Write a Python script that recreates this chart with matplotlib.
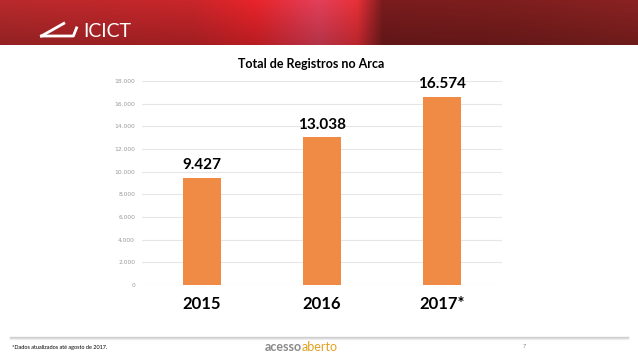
import numpy as np
import matplotlib.pyplot as plt
from matplotlib.colors import LinearSegmentedColormap

years = ['2015', '2016', '2017*']
registros = [9427, 13038, 16574]
value_labels = ['9.427', '13.038', '16.574']
yticks = list(range(0, 18001, 2000))
ytick_labels = ['0', '2.000', '4.000', '6.000', '8.000', '10.000', '12.000', '14.000', '16.000', '18.000']

W, H = 638, 359
fig = plt.figure(figsize=(W / 100, H / 100), dpi=100)
fig.patch.set_facecolor('white')

# header banner
bg = fig.add_axes([0, 1 - 45 / H, 1, 45 / H])
cmap = LinearSegmentedColormap.from_list('hdr', [
    (0.0, '#b82a2c'), (0.3, '#c8262a'), (0.4, '#e8242a'), (0.5, '#e2405a'),
    (0.56, '#e83038'), (0.6, '#7a1c1e'), (0.8, '#7e1e1e'), (1.0, '#8a2222')])
grad = np.linspace(0, 1, 256)[None, :]
shade = np.linspace(1.0, 0.8, 20)[:, None]
img = cmap(np.repeat(grad, 20, axis=0))
img[..., :3] *= shade[..., None]
bg.imshow(img, aspect='auto', extent=[0, 1, 0, 1])
bg.set_xlim(0, 1); bg.set_ylim(0, 1)
bg.axis('off')
bg.text(0.13, 0.3, 'ICICT', color='white', fontsize=14, family='Lato',
        va='center', ha='left')
bg.plot([0.065, 0.115, 0.12], [0.2, 0.2, 0.38], color='white', lw=2)
bg.plot([0.065, 0.1], [0.2, 0.48], color='white', lw=2)

# chart
ax = fig.add_axes([142 / W, 1 - 285 / H, 360 / W, 204 / H])
x = np.arange(len(years))
ax.bar(x, registros, width=0.32, color='#ef8b45', zorder=3)
ax.set_xlim(-0.5, 2.5)
ax.set_ylim(0, 18000)
ax.set_yticks(yticks)
ax.set_yticklabels(ytick_labels, fontsize=4.3, color='#9a9a9a', family='DejaVu Sans')
ax.set_xticks(x)
ax.set_xticklabels(years, fontsize=12, fontweight='bold', family='Lato')
ax.tick_params(axis='y', length=0, pad=5)
ax.tick_params(axis='x', length=0, pad=8)
ax.grid(axis='y', color='#e6e6e6', lw=0.8, zorder=0)
for s in ax.spines.values():
    s.set_visible(False)
for xi, v, lab in zip(x, registros, value_labels):
    ax.text(xi, v + 500, lab, ha='center', va='bottom', fontsize=11,
            fontweight='bold', family='Lato')
fig.text(311 / W, 1 - 64 / H, 'Total de Registros no Arca', ha='center',
         va='center', fontsize=9, fontweight='bold', family='Lato')

# footer
fx = fig.add_axes([0, 0, 1, 1], zorder=-1)
fx.set_xlim(0, W); fx.set_ylim(H, 0)
fx.axis('off')
for i, a in enumerate([0.35, 0.2, 0.1]):
    fx.plot([10, 628], [337 + i, 337 + i], color='gray', alpha=a, lw=1)
fig.text(12 / W, 1 - 347 / H, '*Dados atualizados até agosto de 2017.', fontsize=4,
         va='center', family='Lato')
fig.text(265 / W, 1 - 347 / H, 'acesso', fontsize=9, fontweight='bold',
         color='#8a8a8a', va='center', family='Lato')
fig.text(302 / W, 1 - 347 / H, 'aberto', fontsize=9, color='#e3a020',
         va='center', family='Lato')
fig.text(523 / W, 1 - 346 / H, '7', fontsize=4, color='#888888', va='center',
         family='Lato')

fig.savefig('out.png', dpi=100)
